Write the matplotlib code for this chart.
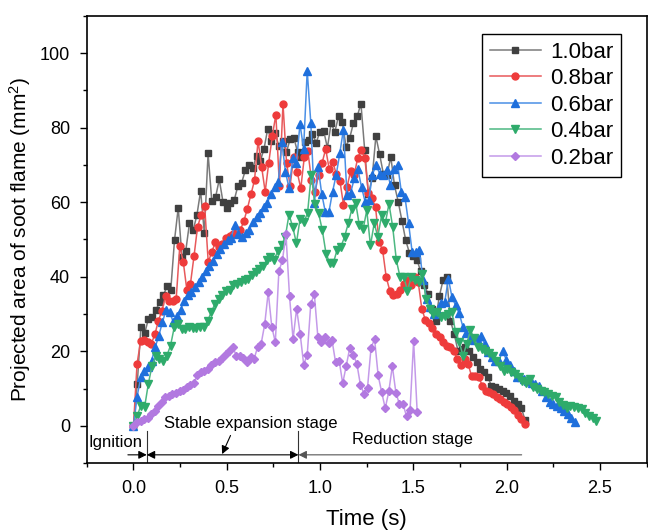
import numpy as np
import matplotlib
matplotlib.use('Agg')
import matplotlib.pyplot as plt
from matplotlib.ticker import MultipleLocator

plt.rcParams['font.family'] = ['Liberation Sans', 'DejaVu Sans']
plt.rcParams['mathtext.default'] = 'regular'

# projected soot flame area (mm^2), one value per frame
area_10 = [0, 11.2, 26.6, 24.8, 28.7, 29.1, 31, 33.2, 35, 37.4, 36.5, 49.8, 58.5, 45.3, 46.8, 54.3,
           52.5, 56.5, 63, 51.7, 73.1, 60.3, 61.3, 66.1, 60.1, 58.5, 59.8, 60.5, 64.4, 65.2, 68.6,
           70.1, 69.2, 72.5, 71, 74.3, 79.7, 76.4, 78.6, 75, 76.4, 73.4, 76.9, 77.3, 73.5, 72.1,
           76.2, 76.7, 78.3, 76, 78.9, 79.2, 74.6, 81.2, 78.9, 83.1, 81.6, 74.9, 77.3, 81.3, 83.1,
           86.4, 74, 62.1, 66.5, 77.7, 72.9, 67.7, 67.3, 72.2, 64.5, 60.1, 55, 49.8, 46.4, 45.5,
           44.6, 41.5, 37.7, 35.4, 31.4, 28.2, 34.7, 39, 39.9, 28.2, 24.7, 20.2, 20.6, 21.1, 20.2,
           18.4, 17.2, 15.2, 14.3, 13, 10.8, 10.3, 10, 9.4, 8.7, 7.9, 6.7, 5.8, 4.9, 1.5]
area_08 = [0, 16.6, 22.7, 22.9, 22.4, 22, 24.5, 28.2, 30.9, 34.8, 33.4, 33.6, 34.1, 48.2, 43.9,
           36.4, 38.1, 45.5, 53.4, 56.5, 59, 43.9, 46.7, 49.2, 48, 48.8, 50.5, 50.9, 51.5, 52.3,
           52.5, 54.9, 58.3, 62.1, 65.9, 76.5, 69.5, 62.8, 70.6, 77.8, 83.5, 64.4, 86.4, 70.6,
           64.4, 72.2, 68.1, 63.7, 72.2, 73.7, 65.9, 62.8, 67.3, 70.6, 74.3, 68.8, 70.7, 67.5,
           65.7, 59.3, 64.1, 68.4, 67.3, 71.9, 74, 71.8, 62.5, 61, 58.7, 49.3, 47.1, 39.9, 36.3,
           35, 35.4, 36.5, 38.1, 39.2, 37.9, 39.9, 38.5, 31.4, 28.4, 27.5, 26.3, 24.7, 23.9, 22.4,
           21.5, 21.1, 20.2, 17.9, 16.3, 17.9, 16.6, 13.3, 13.3, 13, 10.8, 9.4, 9, 8.5, 7.8, 7.2,
           6.5, 5.8, 5.1, 4.2, 2.9, 1.8, 0.5]
area_06 = [0, 7.8, 13, 14.8, 15.7, 17.5, 21.1, 24.2, 27.8, 31.1, 30.5, 27.8, 29.5, 31.1, 33.6, 35,
           35.9, 37.2, 38.6, 39.9, 41.5, 43, 44.2, 46.2, 47.5, 48.9, 49.8, 50.5, 54, 51.6, 50.7,
           51.8, 52.6, 54.7, 56, 57.1, 58.6, 59.8, 62.3, 64.1, 65.5, 76.2, 68.1, 63.7, 71.8, 70.4,
           81, 74.4, 95.3, 81.2, 59.9, 69.5, 62.3, 57.4, 57.4, 62.8, 67.3, 73.1, 79.5, 61.9, 62.5,
           66.4, 68.8, 64.1, 60.1, 60.5, 67.3, 70, 67.7, 67.3, 68.6, 64.6, 68.8, 70, 62.8, 61.4,
           54.4, 46.6, 46.6, 47.1, 39.2, 34.1, 31.8, 30, 30.5, 32.9, 33.2, 39.5, 34.5, 32.3, 30.2,
           26.6, 25, 23.4, 23.1, 23.6, 24.2, 22, 19.7, 18.4, 17.5, 17.5, 20.2, 17.7, 16.2, 14.8,
           13.2, 13, 12.6, 12, 11.4, 11.1, 10.8, 9.2, 7.6, 6.3, 5.8, 5.4, 4.9, 4, 3.1, 2, 0.9]
area_04 = [0, 2.7, 5.4, 5.0, 11.2, 16.1, 18.6, 17.9, 17.5, 18.8, 21.5, 26.4, 27.2, 26, 26, 26.4,
           26.3, 26.3, 26.4, 26.4, 28.1, 30.5, 32.7, 34.1, 35, 36.1, 36.5, 37.7, 38.1, 38.6, 39,
           39.5, 40.4, 41.2, 42.2, 43, 44.4, 45.3, 44.6, 46.9, 48.5, 50.7, 56.7, 53.4, 49, 55.6,
           54.7, 57, 67.3, 59.6, 57, 52.5, 46.2, 43.7, 43.7, 47.3, 48, 50.7, 54.3, 58.3, 59.9,
           53.8, 52.7, 57.8, 48.4, 54.3, 50.8, 56.5, 54.3, 59.6, 53.4, 44.4, 39.9, 39.9, 36.3,
           39.9, 39.2, 38.6, 40.8, 34.1, 31.4, 30, 30.5, 29.1, 29.5, 30, 30.5, 25.1, 22.4, 18.8,
           22, 25.6, 23.5, 21.1, 20.5, 20, 19.5, 18.8, 17.5, 16, 14.8, 15.2, 14.5, 13.9, 13, 12.1,
           11.5, 12.6, 10.3, 9.8, 9.3, 9, 8.5, 8, 7.6, 6.5, 5.6, 4.9, 5.2, 5, 4.9, 4.5, 3.5, 2.7,
           2.2, 1.3]
area_02 = [0, 0.9, 1.4, 1.8, 2.2, 3.1, 4, 5.4, 6.3, 7.6, 8.1, 8.5, 8.7, 9.4, 9.6, 10.3, 11, 11.6,
           13.5, 14.3, 14.8, 15.2, 16.2, 17, 17.5, 18.2, 19.3, 20.2, 21.1, 18.8, 18.6, 18.2, 17.2,
           18.4, 17.9, 21.1, 22, 27.2, 35.9, 26.6, 22.4, 41.5, 44.4, 51.4, 34.8, 23.3, 31.4, 24.7,
           16.4, 19.1, 32.7, 35.4, 23.8, 22.6, 23.9, 22.1, 22.9, 17, 17.5, 11.4, 16.1, 20.9, 19.1,
           16.6, 11, 8.6, 10.2, 21, 23.2, 13.5, 9, 4.7, 9.2, 16, 8.9, 5.8, 5.8, 2.6, 4.2, 22.7, 3.8]

# last recorded time of each run (s)
t_end = {'1.0bar': 2.098, '0.8bar': 2.098, '0.6bar': 2.366, '0.4bar': 2.48, '0.2bar': 1.52}

series = [
    ('1.0bar', area_10, 's', '#404040', '#7a7a7a', 4.5),
    ('0.8bar', area_08, 'o', '#ee3b3b', '#e8595b', 5),
    ('0.6bar', area_06, '^', '#1e6fdc', '#4a8fe6', 5.5),
    ('0.4bar', area_04, 'v', '#2eab6b', '#4db882', 5.5),
    ('0.2bar', area_02, 'D', '#b279e0', '#c49ae9', 4.2),
]

fig = plt.figure(figsize=(6.48, 5.31), dpi=100)
ax = fig.add_axes([0.134, 0.128, 0.864, 0.842])

for name, vals, mk, mc, lc, ms in series:
    t = np.linspace(0, t_end[name], len(vals))
    ax.plot(t, vals, color=lc, lw=1.1, marker=mk, markersize=ms,
            markerfacecolor=mc, markeredgecolor=mc, label=name)

ax.set_xlim(-0.25, 2.75)
ax.set_ylim(-10, 110)
ax.xaxis.set_major_locator(MultipleLocator(0.5))
ax.xaxis.set_minor_locator(MultipleLocator(0.25))
ax.yaxis.set_major_locator(MultipleLocator(20))
ax.yaxis.set_minor_locator(MultipleLocator(10))
ax.set_xticks([0, 0.5, 1.0, 1.5, 2.0, 2.5])
ax.set_xticklabels(['0.0', '0.5', '1.0', '1.5', '2.0', '2.5'])
ax.set_yticks([0, 20, 40, 60, 80, 100])
ax.tick_params(which='major', length=5, width=1, labelsize=13, pad=7)
ax.tick_params(which='minor', length=3, width=1)
for s in ax.spines.values():
    s.set_linewidth(1.2)

ax.set_xlabel('Time (s)', fontsize=16, labelpad=9)
ax.set_ylabel('Projected area of soot flame (mm$^2$)', fontsize=15, labelpad=5)

# stage annotations
ax.plot([0.071, 0.071], [-10, -1.3], color='#333333', lw=0.8)
ax.plot([0.884, 0.884], [-10, -1.3], color='#333333', lw=0.8)
arr = dict(color='black', lw=0.8, mutation_scale=12, shrinkA=0, shrinkB=0)
ax.annotate('', xy=(0.071, -7.8), xytext=(-0.03, -7.8), arrowprops=dict(arrowstyle='-|>', **arr))
ax.annotate('', xy=(0.071, -7.8), xytext=(0.884, -7.8), arrowprops=dict(arrowstyle='<|-|>', **arr))
ax.annotate('', xy=(0.884, -7.8), xytext=(2.08, -7.8),
            arrowprops=dict(arrowstyle='-|>', color='#555555', lw=0.8, mutation_scale=12,
                            shrinkA=0, shrinkB=0))
ax.annotate('', xy=(0.475, -7.6), xytext=(0.52, -2.6),
            arrowprops=dict(arrowstyle='-|>', **arr))
ax.text(-0.094, -5.8, 'Ignition', fontsize=12, ha='center', va='baseline')
ax.text(0.627, -0.6, 'Stable expansion stage', fontsize=12, ha='center', va='baseline')
ax.text(1.495, -4.8, 'Reduction stage', fontsize=12, ha='center', va='baseline')

leg = ax.legend(loc='upper right', bbox_to_anchor=(0.954, 0.960), borderaxespad=0,
                fontsize=16, handlelength=2.3, labelspacing=0.25, borderpad=0.35,
                handletextpad=0.4, fancybox=False, edgecolor='black', framealpha=1)
leg.get_frame().set_linewidth(1.0)

fig.savefig('out.png', dpi=100)
